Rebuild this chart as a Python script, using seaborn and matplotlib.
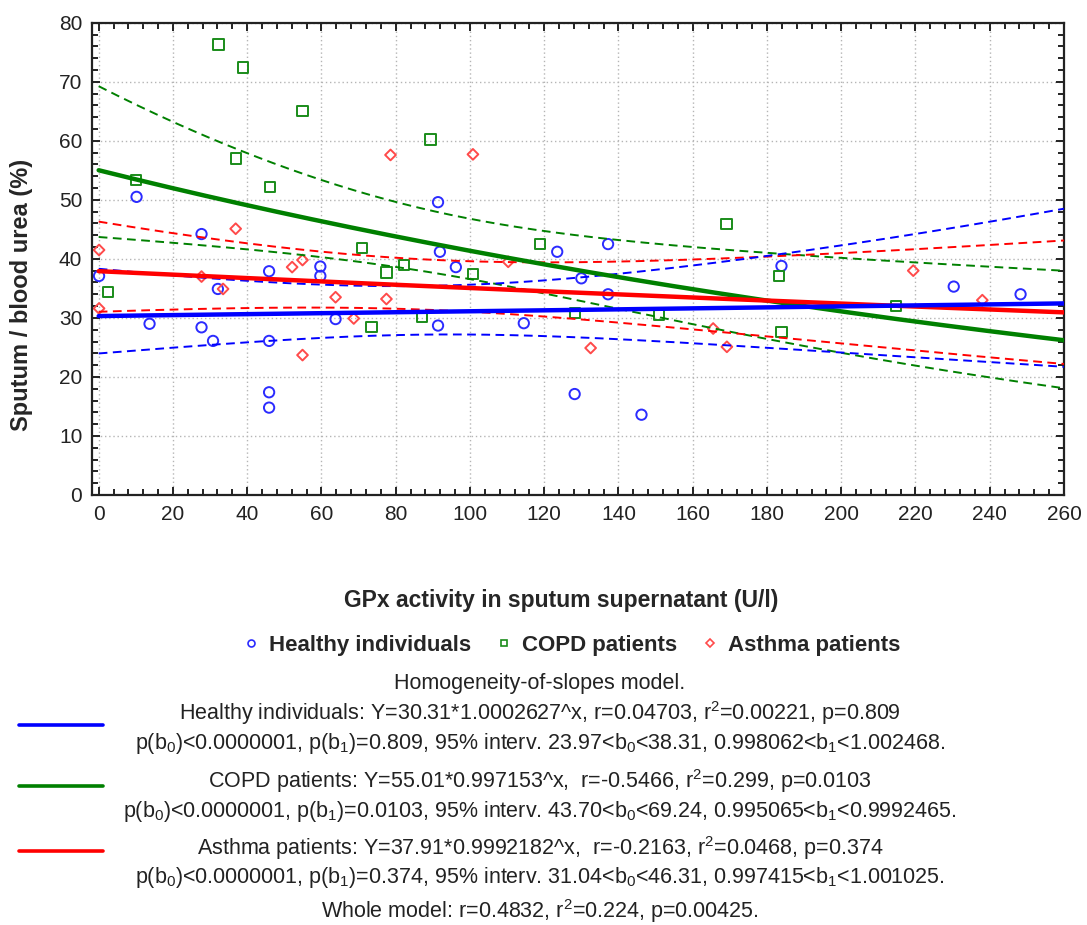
import numpy as np
import pandas as pd
import matplotlib
matplotlib.use("Agg")
import matplotlib.pyplot as plt
import seaborn as sns
from matplotlib.lines import Line2D
from matplotlib.ticker import MultipleLocator

# ---------------- data ----------------
groups = ["Healthy individuals", "COPD patients", "Asthma patients"]

healthy_x = [0.1, 10.2, 13.7, 27.7, 27.7, 30.8, 32.1, 45.9, 45.9, 45.9, 45.9, 59.7, 59.7, 63.8,
             91.4, 91.9, 96.2, 91.4, 114.5, 123.5, 130.0, 137.2, 137.2, 128.2, 146.2, 183.9, 230.3, 248.3]
healthy_y = [37.1, 50.5, 29.0, 44.2, 28.4, 26.1, 34.9, 37.9, 26.1, 17.4, 14.8, 38.7, 37.1, 29.8,
             49.6, 41.2, 38.6, 28.7, 29.1, 41.2, 36.7, 42.5, 34.0, 17.1, 13.6, 38.8, 35.3, 34.0]

copd_x = [32.3, 38.9, 54.9, 36.9, 46.1, 10.0, 71.0, 2.5, 77.5, 82.2, 73.5, 89.4, 100.8, 87.1,
          118.8, 128.2, 150.9, 169.1, 183.2, 183.9, 214.7]
copd_y = [76.3, 72.4, 65.0, 57.0, 52.2, 53.4, 41.8, 34.4, 37.7, 38.9, 28.5, 60.2, 37.4, 30.2,
          42.5, 30.8, 30.5, 45.9, 37.1, 27.6, 32.0]

asthma_x = [78.6, 36.9, 0.1, 0.1, 27.7, 33.5, 52.1, 54.9, 63.8, 54.9, 77.5, 68.7, 100.8, 110.3,
            132.5, 165.5, 169.2, 219.4, 238.0]
asthma_y = [57.6, 45.1, 41.5, 31.6, 37.0, 34.9, 38.6, 39.8, 33.5, 23.7, 33.2, 29.9, 57.7, 39.5,
            24.9, 28.2, 25.1, 38.0, 33.0]

# exponential model Y = b0 * b1^x and its 95% intervals (from the legend text)
fit_b0 = [30.31, 55.01, 37.91]
fit_b1 = [1.0002627, 0.997153, 0.9992182]
b0_low = [23.97, 43.70, 31.04]
b0_high = [38.31, 69.24, 46.31]
b1_low = [0.998062, 0.995065, 0.997415]
b1_high = [1.002468, 0.9992465, 1.001025]

xticks = list(range(0, 261, 20))
yticks = list(range(0, 81, 10))

legend_lines = [
    "Homogeneity-of-slopes model.",
    "Healthy individuals: Y=30.31*1.0002627^x, r=0.04703, r$^2$=0.00221, p=0.809",
    "p(b$_0$)<0.0000001, p(b$_1$)=0.809, 95% interv. 23.97<b$_0$<38.31, 0.998062<b$_1$<1.002468.",
    "COPD patients: Y=55.01*0.997153^x,  r=-0.5466, r$^2$=0.299, p=0.0103",
    "p(b$_0$)<0.0000001, p(b$_1$)=0.0103, 95% interv. 43.70<b$_0$<69.24, 0.995065<b$_1$<0.9992465.",
    "Asthma patients: Y=37.91*0.9992182^x,  r=-0.2163, r$^2$=0.0468, p=0.374",
    "p(b$_0$)<0.0000001, p(b$_1$)=0.374, 95% interv. 31.04<b$_0$<46.31, 0.997415<b$_1$<1.001025.",
    "Whole model: r=0.4832, r$^2$=0.224, p=0.00425.",
]

# ---------------- styling ----------------
sns.set_theme(style="ticks")
plt.rcParams["font.family"] = ["Liberation Sans", "DejaVu Sans"]
plt.rcParams["mathtext.fontset"] = "custom"
plt.rcParams["mathtext.rm"] = "Liberation Sans"
plt.rcParams["mathtext.default"] = "regular"

line_colors = ["#0000ff", "#008000", "#ff0000"]
marker_colors = ["#2b2bff", "#1a8c1a", "#ff4a4a"]
markers = ["o", "s", "D"]
msizes = [55, 55, 30]

xs_data = [healthy_x, copd_x, asthma_x]
ys_data = [healthy_y, copd_y, asthma_y]

df = pd.concat([pd.DataFrame({"x": xd, "y": yd, "group": g})
                for xd, yd, g in zip(xs_data, ys_data, groups)], ignore_index=True)

W, H = 1087, 925
fig = plt.figure(figsize=(W / 100, H / 100), dpi=100)
ax = fig.add_axes([92 / W, 1 - 495 / H, (1064 - 92) / W, (495 - 22.7) / H])

# scatter points
for g, c, m, s in zip(groups, marker_colors, markers, msizes):
    sub = df[df["group"] == g]
    sns.scatterplot(x=sub["x"].values, y=sub["y"].values, ax=ax, marker=m, s=s,
                    fc="none", edgecolor=c, linewidth=1.4, legend=False, zorder=2)

# regression curves with 95% confidence bands (log scale, symmetric)
xs = np.linspace(0, 260, 300)
order = [1, 2, 0]
for i in order:
    xbar = np.mean(xs_data[i])
    h0 = np.log(b0_high[i] / b0_low[i]) / 2
    h1 = np.log(b1_high[i] / b1_low[i]) / 2
    center = np.log(fit_b0[i]) + xs * np.log(fit_b1[i])
    half = np.sqrt(np.maximum(h0 ** 2 - 2 * xs * xbar * h1 ** 2 + xs ** 2 * h1 ** 2, 0))
    for yb in (np.exp(center - half), np.exp(center + half)):
        sns.lineplot(x=xs, y=yb, ax=ax, color=line_colors[i], linewidth=1.4,
                     linestyle=(0, (4.5, 2.8)), errorbar=None, legend=False, zorder=3)
for i in order:
    yfit = fit_b0[i] * fit_b1[i] ** xs
    sns.lineplot(x=xs, y=yfit, ax=ax, color=line_colors[i], linewidth=3.2,
                 errorbar=None, legend=False, zorder=4)

ax.set_xlim(-1.8, 260)
ax.set_ylim(0, 80)
ax.set_xticks(xticks)
ax.set_yticks(yticks)
ax.xaxis.set_minor_locator(MultipleLocator(4))
ax.yaxis.set_minor_locator(MultipleLocator(2))
ax.tick_params(which="both", direction="in", top=True, right=True, width=1.4,
               colors="#222222", labelcolor="#222222")
ax.tick_params(which="major", length=6, labelsize=15, pad=7)
ax.tick_params(which="minor", length=4)
ax.grid(True, which="major", linestyle=(0, (1, 2)), color="#b5b5b5", linewidth=1.0)
ax.set_axisbelow(True)
for sp in ax.spines.values():
    sp.set_linewidth(1.6)
    sp.set_color("#222222")

ax.set_xlabel("GPx activity in sputum supernatant (U/l)", fontsize=16.5, fontweight="bold")
ax.set_ylabel("Sputum / blood urea (%)", fontsize=17, fontweight="bold")
ax.xaxis.label.set_va("center")
ax.xaxis.set_label_coords((561 - 92) / (1064 - 92), -(600 - 495) / (495 - 22.7))
ax.yaxis.label.set_va("center")
ax.yaxis.set_label_coords(-(92 - 22) / (1064 - 92), (495 - 295) / (495 - 22.7))

# marker legend row
handles = [Line2D([], [], linestyle="none", marker=m, mfc="none", mec=c, mew=1.2,
                  ms=(5 if m != "D" else 4))
           for m, c in zip(markers, marker_colors)]
fig.legend(handles, groups, loc="center", bbox_to_anchor=(570 / W, 1 - 645 / H), ncol=3,
           frameon=False, handletextpad=0.3, columnspacing=1.0, handlelength=1.0,
           prop={"weight": "bold", "size": 16})

# model text block
text_y = [683, 713, 743, 781, 811, 848, 877, 911]
for t, yy in zip(legend_lines, text_y):
    fig.text(540 / W, 1 - yy / H, t, ha="center", va="center", fontsize=15.5, color="#222222")

for c, yy in zip(line_colors, [725, 786, 851]):
    fig.add_artist(Line2D([19 / W, 103 / W], [1 - yy / H] * 2, color=c, linewidth=2.6))

fig.savefig("out.png", dpi=100)
